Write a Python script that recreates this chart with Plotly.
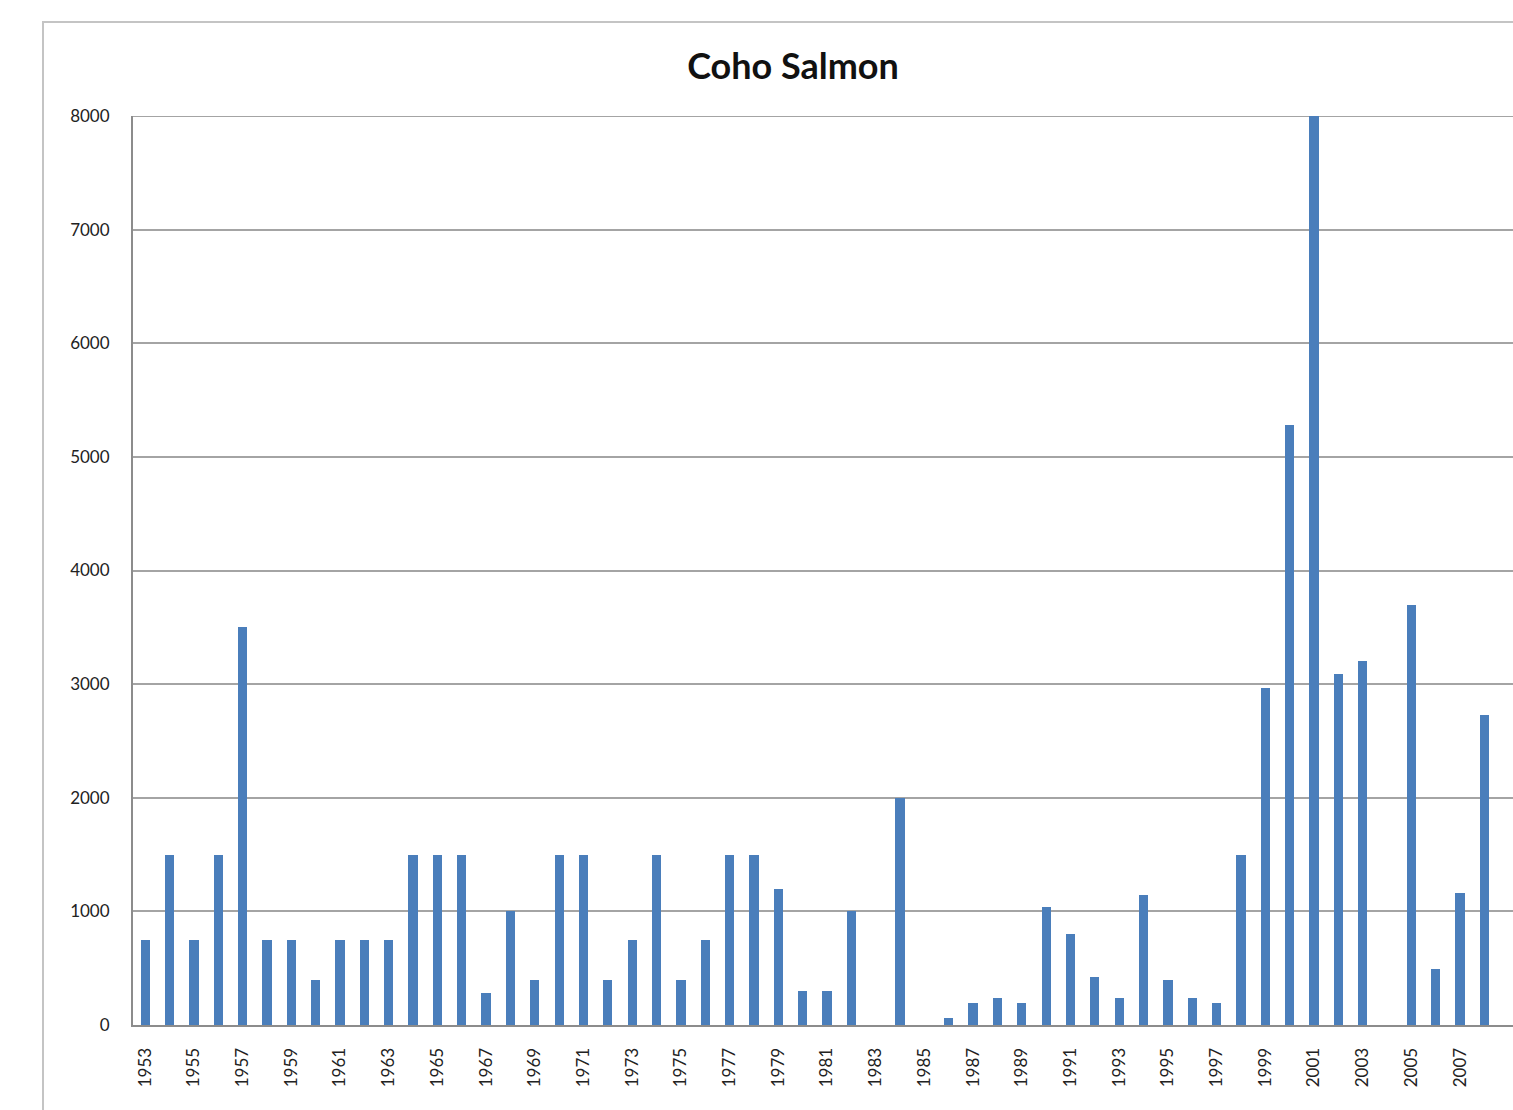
import plotly.graph_objects as go

# Coho salmon counts by year
years = list(range(1953, 2009))
counts = [
    750, 1500, 750, 1500, 3500, 750, 750, 400, 750, 750,      # 1953-1962
    750, 1500, 1500, 1500, 280, 1000, 400, 1500, 1500, 400,   # 1963-1972
    750, 1500, 400, 750, 1500, 1500, 1200, 300, 300, 1000,    # 1973-1982
    0, 2000, 0, 60, 190, 235, 190, 1040, 800, 425,            # 1983-1992
    240, 1140, 400, 240, 190, 1500, 2970, 5280, 8000, 3090,   # 1993-2002
    3200, 0, 3700, 490, 1160, 2730,                           # 2003-2008
]
tick_years = list(range(1953, 2009, 2))
tick_labels = [str(y) for y in tick_years]
y_ticks = list(range(0, 8001, 1000))

W, H = 1513, 1110
left, top, bottom = 133, 116, 85
plot_w = W - left
plot_h = H - top - bottom

fig = go.Figure(
    go.Bar(
        x=years,
        y=counts,
        width=0.38,
        marker=dict(color="#4a7ebb", line=dict(width=0)),
    )
)

grid = "#a4a4a4"
font_family = "Lato, 'Open Sans', sans-serif"

fig.update_layout(
    width=W,
    height=H,
    margin=dict(l=left, r=0, t=top, b=bottom, pad=0),
    paper_bgcolor="white",
    plot_bgcolor="white",
    showlegend=False,
    bargap=0,
    title=dict(
        text="<b>Coho Salmon</b>",
        x=(793) / W,
        xanchor="center",
        y=1 - 66 / H,
        yanchor="middle",
        font=dict(family=font_family, size=36, color="#111111"),
    ),
    xaxis=dict(
        range=[1952.5, 1952.5 + plot_w / 24.35],
        tickmode="array",
        tickvals=tick_years,
        ticktext=tick_labels,
        tickangle=-90,
        ticks="",
        showgrid=False,
        zeroline=False,
        showline=True,
        linecolor="#8c8c8c",
        linewidth=2,
        ticklabelstandoff=14,
        tickfont=dict(family=font_family, size=17, color="#222222"),
        fixedrange=True,
    ),
    yaxis=dict(
        range=[0, 8000],
        tickmode="array",
        tickvals=y_ticks,
        ticks="",
        showgrid=True,
        gridcolor=grid,
        gridwidth=2,
        zeroline=False,
        showline=True,
        linecolor="#8c8c8c",
        linewidth=2,
        ticklabelstandoff=18,
        tickfont=dict(family=font_family, size=17, color="#222222"),
        fixedrange=True,
    ),
)

# Top gridline at the axis maximum
fig.add_shape(
    type="line",
    xref="paper",
    yref="y",
    x0=0,
    x1=1,
    y0=y_ticks[-1],
    y1=y_ticks[-1],
    line=dict(color=grid, width=2),
    layer="below",
)

# Outer chart-area frame
fig.add_shape(
    type="rect",
    xref="paper",
    yref="paper",
    x0=(43 - left) / plot_w,
    x1=1.2,
    y0=-0.3,
    y1=(H - bottom - 22) / plot_h,
    line=dict(color="#c4c4c4", width=2),
    fillcolor="rgba(0,0,0,0)",
    layer="below",
)

fig.write_html("out.html")
